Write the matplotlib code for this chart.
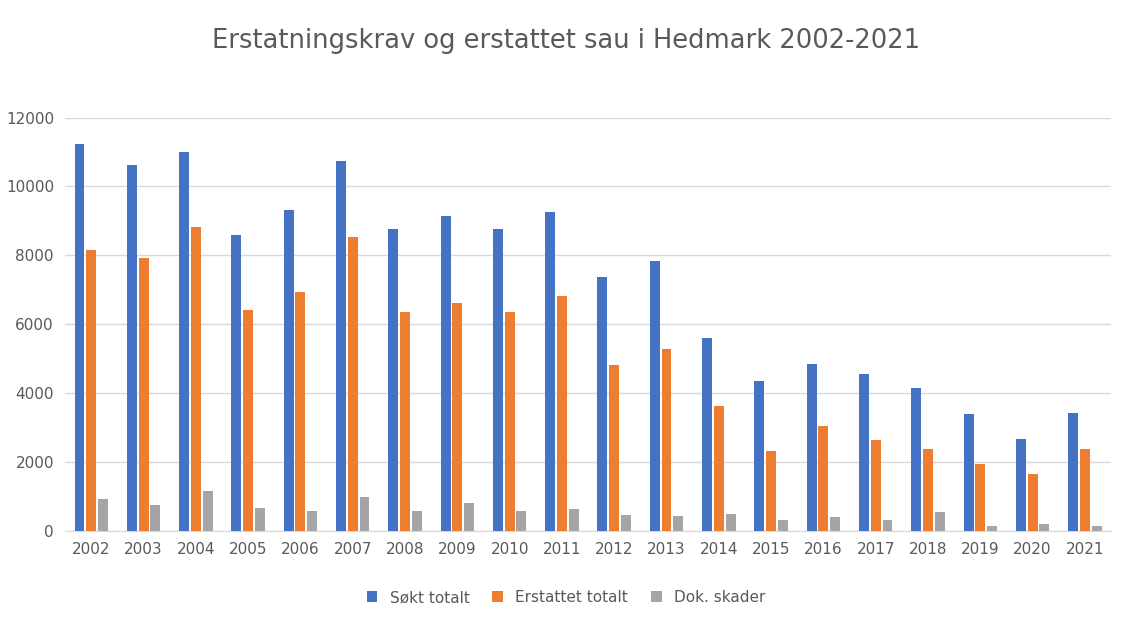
import matplotlib.pyplot as plt
import numpy as np

years = [str(y) for y in range(2002, 2022)]
sokt = [11237, 10628, 11005, 8599, 9324, 10744, 8773, 9150, 8773, 9266, 7382, 7845, 5614, 4338, 4860, 4541, 4135, 3382, 2657, 3411]
erstattet = [8164, 7932, 8831, 6425, 6947, 8541, 6367, 6628, 6367, 6831, 4831, 5295, 3614, 2309, 3034, 2628, 2367, 1932, 1643, 2367]
dok = [918, 744, 1150, 657, 570, 976, 570, 802, 570, 628, 454, 425, 483, 309, 396, 309, 541, 135, 193, 135]

fig = plt.figure(figsize=(11.32, 6.29), dpi=100)
ax = fig.add_axes([0.0575, 0.156, 0.924, 0.657])
x = np.arange(len(years))
w = 0.19
gap = 0.035
ax.bar(x - w - gap, sokt, w, color='#4472C4', label='Søkt totalt', zorder=3)
ax.bar(x, erstattet, w, color='#ED7D31', label='Erstattet totalt', zorder=3)
ax.bar(x + w + gap, dok, w, color='#A5A5A5', label='Dok. skader', zorder=3)
ax.set_xlim(-0.5, len(years) - 0.5)
ax.set_ylim(0, 12000)
ax.set_yticks(range(0, 12001, 2000))
ax.set_xticks(x)
ax.set_xticklabels(years)
ax.grid(axis='y', color='#D9D9D9', lw=1, zorder=0)
for s in ['top', 'right', 'left']:
    ax.spines[s].set_visible(False)
ax.spines['bottom'].set_color('#D9D9D9')
ax.tick_params(length=0, labelsize=11, colors='#595959', pad=8)
fig.text(0.5, 0.935, 'Erstatningskrav og erstattet sau i Hedmark 2002-2021', ha='center', va='center', fontsize=18.5, color='#595959')
fig.legend(loc='center', bbox_to_anchor=(0.5, 0.05), ncol=3, frameon=False, fontsize=11, labelcolor='#595959', handlelength=0.7, handleheight=0.7, columnspacing=1.5)
fig.savefig('out.png')
